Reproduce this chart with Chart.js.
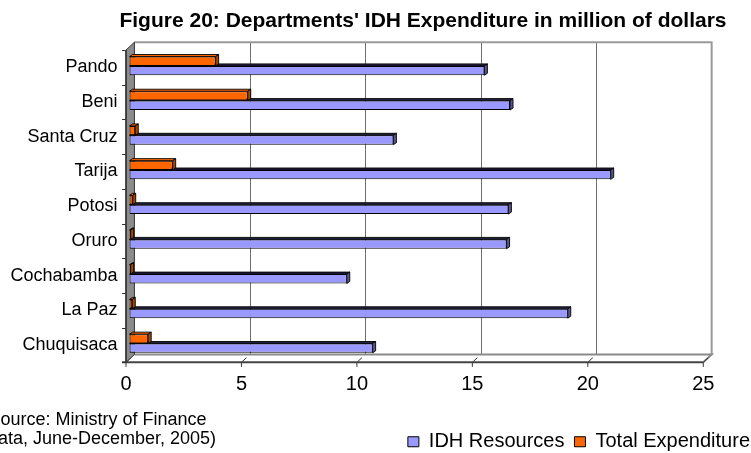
<!DOCTYPE html>
<html>
<head>
<meta charset="utf-8">
<script src="https://cdn.jsdelivr.net/npm/chart.js@4.4.1/dist/chart.umd.min.js"></script>
<style>
  html, body { margin: 0; padding: 0; background: #fff; }
  #wrap { width: 751px; height: 453px; }
</style>
</head>
<body>
<div id="wrap"><canvas id="c"></canvas></div>
<script>
// ---- data ----
const titleText = "Figure 20: Departments' IDH Expenditure in million of dollars";
const categories = ["Pando", "Beni", "Santa Cruz", "Tarija", "Potosi", "Oruro", "Cochabamba", "La Paz", "Chuquisaca"];
const idhResources = [15.37, 16.48, 11.43, 20.84, 16.41, 16.33, 9.41, 18.98, 10.53];
const totalExpenditure = [3.73, 5.12, 0.25, 1.87, 0.14, 0.05, 0.05, 0.12, 0.81];
const seriesNames = ["IDH Resources", "Total Expenditure"];
const xTicks = [0, 5, 10, 15, 20, 25];
const sourceLines = ["Source: Ministry of Finance", "(Data, June-December, 2005)"];

const FONT = '"Liberation Sans", Arial, sans-serif';
const BLUE = '#9999FF', ORANGE = '#FF6600';

// 3D styling
const FX = -3.5, FY = 1.5, DX = 8.4, DY = -7.8; // front plane offset and wall depth
const BDX = 3, BDY = 2; // bar depth
const PAD_LEFT = 86, PAD_RIGHT = -9, PAD_BOTTOM = -8.75;
const AREA_LEFT = 129.5, AREA_RIGHT = 706.75, AREA_BOTTOM = 360.85;

const faceColors = {
  0: { top: '#FF6600', side: '#A84300' },
  1: { top: '#222244', side: '#55558F' }
};

const depthPlugin = {
  id: 'depth3d',
  beforeDatasetsDraw(chart) {
    const ctx = chart.ctx, xs = chart.scales.x, ys = chart.scales.y, ca = chart.chartArea;
    const fl = xs.getPixelForValue(xs.min) + FX, fr = xs.getPixelForValue(xs.max) + FX;
    const ft = ca.top + FY, fb = ca.bottom + FY;
    const bl = fl + DX, br = fr + DX, bt = ft + DY, bb = fb + DY;
    ctx.save();
    // back wall
    ctx.fillStyle = '#fff';
    ctx.fillRect(bl, bt, br - bl, bb - bt);
    ctx.strokeStyle = '#6e6e6e';
    ctx.lineWidth = 1;
    xs.ticks.forEach(t => {
      if (t.value <= xs.min || t.value >= xs.max) return;
      const x = Math.round(xs.getPixelForValue(t.value) + FX + DX) + 0.5;
      ctx.beginPath(); ctx.moveTo(x, bt); ctx.lineTo(x, bb); ctx.stroke();
    });
    ctx.strokeStyle = '#9a9a9a';
    ctx.lineWidth = 2;
    ctx.beginPath(); ctx.moveTo(bl, bt); ctx.lineTo(br, bt); ctx.lineTo(br, bb); ctx.stroke();
    // floor
    ctx.fillStyle = '#fff';
    ctx.beginPath(); ctx.moveTo(fl, fb); ctx.lineTo(bl, bb); ctx.lineTo(br, bb); ctx.lineTo(fr, fb); ctx.closePath(); ctx.fill();
    ctx.strokeStyle = '#8a8a8a';
    ctx.lineWidth = 2;
    ctx.beginPath(); ctx.moveTo(bl, bb); ctx.lineTo(br, bb); ctx.lineTo(fr, fb); ctx.stroke();
    // slanted floor ticks and front ticks
    ctx.strokeStyle = '#333';
    ctx.lineWidth = 1;
    xs.ticks.forEach(t => {
      const x = xs.getPixelForValue(t.value) + FX;
      ctx.beginPath(); ctx.moveTo(x, fb); ctx.lineTo(x + DX * 0.6, fb + DY * 0.6); ctx.stroke();
      ctx.beginPath(); ctx.moveTo(x, fb); ctx.lineTo(x, fb + 4.5); ctx.stroke();
    });
    // front axis line
    ctx.strokeStyle = '#444';
    ctx.lineWidth = 2;
    ctx.beginPath(); ctx.moveTo(fl - 4, fb); ctx.lineTo(fr, fb); ctx.stroke();
    // left wall
    ctx.fillStyle = '#8c8c8c';
    ctx.strokeStyle = '#333';
    ctx.lineWidth = 1;
    ctx.beginPath(); ctx.moveTo(fl, ft); ctx.lineTo(bl, bt); ctx.lineTo(bl, bb); ctx.lineTo(fl, fb); ctx.closePath(); ctx.fill(); ctx.stroke();
    ctx.lineWidth = 1.5;
    ctx.beginPath(); ctx.moveTo(fl, ft); ctx.lineTo(fl, fb); ctx.stroke();
    // category ticks
    ctx.lineWidth = 1;
    const n = ys.ticks.length;
    const step = (ca.bottom - ca.top) / n;
    for (let i = 0; i <= n; i++) {
      const y = Math.round(ft + i * step) + 0.5;
      ctx.beginPath(); ctx.moveTo(fl - 4, y); ctx.lineTo(fl, y); ctx.stroke();
    }
    ctx.restore();
  },
  afterDatasetDraw(chart, args) {
    const ctx = chart.ctx, meta = args.meta;
    const col = faceColors[args.index];
    ctx.save();
    ctx.strokeStyle = '#000';
    ctx.lineWidth = 0.9;
    meta.data.forEach(el => {
      const p = el.getProps(['x', 'y', 'base', 'height'], true);
      const x0 = p.base, x1 = p.x, top = p.y - p.height / 2, bot = p.y + p.height / 2;
      // top face
      ctx.fillStyle = col.top;
      ctx.beginPath(); ctx.moveTo(x0, top); ctx.lineTo(x0 + BDX, top - BDY); ctx.lineTo(x1 + BDX, top - BDY); ctx.lineTo(x1, top); ctx.closePath(); ctx.fill(); ctx.stroke();
      // side face
      ctx.fillStyle = col.side;
      ctx.beginPath(); ctx.moveTo(x1, top); ctx.lineTo(x1 + BDX, top - BDY); ctx.lineTo(x1 + BDX, bot - BDY); ctx.lineTo(x1, bot); ctx.closePath(); ctx.fill(); ctx.stroke();
    });
    ctx.restore();
  },
  afterDraw(chart) {
    const ctx = chart.ctx;
    ctx.save();
    ctx.fillStyle = '#000';
    ctx.font = '18px ' + FONT;
    ctx.textAlign = 'center';
    ctx.textBaseline = 'middle';
    ctx.fillText(sourceLines[0], 97.5, 420);
    ctx.fillText(sourceLines[1], 97.5, 439.5);
    ctx.restore();
  }
};

new Chart(document.getElementById('c'), {
  type: 'bar',
  data: {
    labels: categories,
    datasets: [
      { label: seriesNames[1], data: totalExpenditure, backgroundColor: ORANGE, borderColor: '#000', borderWidth: 1, borderSkipped: false },
      { label: seriesNames[0], data: idhResources, backgroundColor: BLUE, borderColor: '#000', borderWidth: 1, borderSkipped: false }
    ]
  },
  plugins: [depthPlugin],
  options: {
    indexAxis: 'y',
    responsive: true,
    maintainAspectRatio: false,
    animation: false,
    events: [],
    layout: { padding: { top: 0, left: PAD_LEFT, right: PAD_RIGHT, bottom: PAD_BOTTOM } },
    datasets: { bar: { categoryPercentage: 0.54, barPercentage: 1.0 } },
    scales: {
      x: {
        type: 'linear', min: 0, max: 25,
        afterBuildTicks: s => { s.ticks = xTicks.map(v => ({ value: v })); },
        grid: { display: false, drawTicks: false },
        border: { display: false },
        ticks: { color: '#000', font: { family: FONT, size: 20 }, padding: 11.15, labelOffset: -3.5, maxRotation: 0 },
        afterFit: s => { s.height = s.chart.height - PAD_BOTTOM - s.chart.legend.height - AREA_BOTTOM; }
      },
      y: {
        type: 'category',
        grid: { display: false, drawTicks: false },
        border: { display: false },
        ticks: { color: '#000', font: { family: FONT, size: 18 }, padding: 12, labelOffset: 1.5 },
        afterFit: s => {
          s.width = AREA_LEFT - PAD_LEFT;
          s._computeLabelArea = () => undefined; // let the long labels extend left of the axis box
        }
      },
      yR: {
        type: 'linear', axis: 'y', position: 'right', min: 0, max: 1, display: true,
        grid: { display: false, drawTicks: false },
        border: { display: false },
        ticks: { display: false },
        afterFit: s => { s.width = s.chart.width - PAD_RIGHT - AREA_RIGHT; }
      }
    },
    plugins: {
      title: {
        display: true, text: titleText, fullSize: true,
        color: '#000', font: { family: FONT, size: 21, weight: 'bold', lineHeight: 1.2 },
        padding: { top: 8.4, bottom: 14.95 }
      },
      legend: {
        display: true, position: 'bottom', align: 'end',
        labels: {
          color: '#000', font: { family: FONT, size: 20 },
          boxWidth: 11, boxHeight: 10, padding: 10,
          sort: (a, b) => b.datasetIndex - a.datasetIndex
        }
      },
      tooltip: { enabled: false }
    }
  }
});
</script>
</body>
</html>
